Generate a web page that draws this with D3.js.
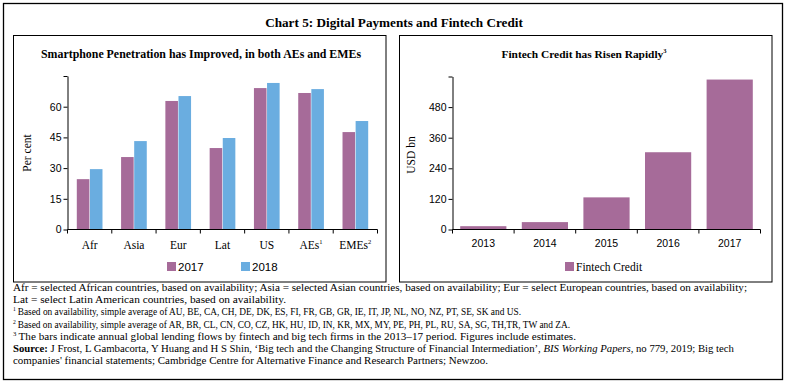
<!DOCTYPE html>
<html><head><meta charset="utf-8">
<script src="https://cdn.jsdelivr.net/npm/d3@7"></script>
<style>body{margin:0;background:#fff}svg{display:block}</style>
</head><body>
<svg id="c" width="787" height="384"></svg>
<script>
const regions = ["Afr","Asia","Eur","Lat","US","AEs","EMEs"];
const regionSup = ["","","","","","1","2"];
const series2017 = [24.6,35.4,62.8,39.8,69.1,66.7,47.6];
const series2018 = [29.5,43.2,65.2,44.7,71.6,68.6,53.0];
const years = ["2013","2014","2015","2016","2017"];
const fintechCredit = [13,29,126,303,588];
const leftTicks = [0,15,30,45,60,75];
const rightTicks = [0,120,240,360,480,600];
const seriesNames = ["2017","2018"];
const footnotes = [
 "Afr = selected African countries, based on availability; Asia = selected Asian countries, based on availability; Eur = select European countries, based on availability;",
 "Lat = select Latin American countries, based on availability.",
 "Based on availability, simple average of AU, BE, CA, CH, DE, DK, ES, FI, FR, GB, GR, IE, IT, JP, NL, NO, NZ, PT, SE, SK and US.",
 "Based on availability, simple average of AR, BR, CL, CN, CO, CZ, HK, HU, ID, IN, KR, MX, MY, PE, PH, PL, RU, SA, SG, TH,TR, TW and ZA.",
 "The bars indicate annual global lending flows by fintech and big tech firms in the 2013–17 period. Figures include estimates."
];
const footSup = ["","","1","2","3"];
const footWidths = [734,273,508,557,563,721,475];

const purple = "#a66b99", blue = "#6aade0";
const serif = "'Liberation Serif','Times New Roman',serif";
const sans = "'Liberation Sans',Arial,sans-serif";
const svg = d3.select("#c");

// frames
svg.append("rect").attr("x",3.5).attr("y",3.5).attr("width",779).attr("height",376)
  .attr("fill","none").attr("stroke","#000").attr("stroke-width",1.3);
svg.append("rect").attr("x",13.5).attr("y",35.5).attr("width",372.5).attr("height",246.5)
  .attr("fill","none").attr("stroke","#000").attr("stroke-width",1);
svg.append("rect").attr("x",399.5).attr("y",35.5).attr("width",372.5).attr("height",246.5)
  .attr("fill","none").attr("stroke","#000").attr("stroke-width",1);

svg.append("text").attr("x",394).attr("y",27).attr("text-anchor","middle")
  .attr("font-family",serif).attr("font-weight","bold").attr("font-size",13.2)
  .text("Chart 5: Digital Payments and Fintech Credit");

// ---- left chart
const L = {x0:67.5, x1:377.5, y0:229.5, y1:76};
const xL = d3.scaleBand().domain(regions).range([L.x0,L.x1]).paddingInner(0.42).paddingOuter(0.21);
const xLsub = d3.scaleBand().domain(seriesNames).range([0,xL.bandwidth()]).paddingInner(0.04);
const yL = d3.scaleLinear().domain([0,75]).range([L.y0,L.y1]);
const gL = svg.append("g");
gL.append("text").attr("x",201).attr("y",58).attr("text-anchor","middle")
  .attr("font-family",serif).attr("font-weight","bold").attr("font-size",11.6)
  .attr("textLength",320).attr("lengthAdjust","spacingAndGlyphs")
  .text("Smartphone Penetration has Improved, in both AEs and EMEs");
const dataL = regions.map((r,i)=>({r, vals:[series2017[i],series2018[i]]}));
const grp = gL.selectAll("g.cat").data(dataL).join("g").attr("transform",d=>`translate(${xL(d.r)},0)`);
grp.selectAll("rect").data(d=>d.vals.map((v,j)=>({v,s:seriesNames[j]}))).join("rect")
  .attr("x",d=>xLsub(d.s)).attr("width",xLsub.bandwidth())
  .attr("y",d=>yL(d.v)).attr("height",d=>yL(0)-yL(d.v))
  .attr("fill",d=>d.s==="2017"?purple:blue);
const yAxL = gL.append("g").attr("transform",`translate(${L.x0},0)`)
  .call(d3.axisLeft(yL).tickValues(leftTicks).tickSize(4).tickSizeOuter(0).tickFormat(d=>d===75?"":d));
const step = (L.x1-L.x0)/regions.length;
const xAxL = gL.append("g").attr("transform",`translate(0,${L.y0})`);
xAxL.append("line").attr("x1",L.x0).attr("x2",L.x1).attr("stroke","#000");
xAxL.selectAll("line.t").data(d3.range(regions.length+1)).join("line").attr("class","t")
  .attr("x1",i=>L.x0+i*step).attr("x2",i=>L.x0+i*step).attr("y1",0).attr("y2",4).attr("stroke","#000");
const xl = xAxL.selectAll("text").data(regions).join("text")
  .attr("x",d=>xL(d)+xL.bandwidth()/2).attr("y",19).attr("text-anchor","middle")
  .attr("font-family",serif).attr("font-size",11.5);
xl.append("tspan").text(d=>d);
xl.append("tspan").attr("font-size",6.5).attr("dy",-5).text((d,i)=>regionSup[i]);
gL.append("text").attr("transform","translate(31,153) rotate(-90)").attr("text-anchor","middle")
  .attr("font-family",serif).attr("font-size",11.5).text("Per cent");
const lg = gL.selectAll("g.lg").data(seriesNames).join("g").attr("transform",(d,i)=>`translate(${167+i*74},262)`);
lg.append("rect").attr("width",9).attr("height",9).attr("fill",(d,i)=>i?blue:purple);
lg.append("text").attr("x",11).attr("y",8.6).attr("font-family",sans).attr("font-size",11.5).text(d=>d);

// ---- right chart
const R = {x0:452.5, x1:760.5, y0:229.5, y1:76.5};
const xR = d3.scaleBand().domain(years).range([R.x0,R.x1]).paddingInner(0.25).paddingOuter(0.125);
const yR = d3.scaleLinear().domain([0,600]).range([R.y0,R.y1]);
const gR = svg.append("g");
const rt = gR.append("text").attr("x",584).attr("y",58).attr("text-anchor","middle")
  .attr("font-family",serif).attr("font-weight","bold").attr("font-size",11.4);
rt.append("tspan").text("Fintech Credit has Risen Rapidly");
rt.append("tspan").attr("font-size",6.5).attr("dy",-5).text("3");
gR.selectAll("rect.b").data(years.map((y,i)=>({y,v:fintechCredit[i]}))).join("rect").attr("class","b")
  .attr("x",d=>xR(d.y)).attr("width",xR.bandwidth()).attr("y",d=>yR(d.v)).attr("height",d=>yR(0)-yR(d.v))
  .attr("fill",purple);
const yAxR = gR.append("g").attr("transform",`translate(${R.x0},0)`)
  .call(d3.axisLeft(yR).tickValues(rightTicks).tickSize(4).tickSizeOuter(0).tickFormat(d=>d===600?"":d));
const stepR = (R.x1-R.x0)/years.length;
const xAxR = gR.append("g").attr("transform",`translate(0,${R.y0})`);
xAxR.append("line").attr("x1",R.x0).attr("x2",R.x1).attr("stroke","#000");
xAxR.selectAll("line.t").data(d3.range(years.length+1)).join("line").attr("class","t")
  .attr("x1",i=>R.x0+i*stepR).attr("x2",i=>R.x0+i*stepR).attr("y1",0).attr("y2",4).attr("stroke","#000");
xAxR.selectAll("text").data(years).join("text")
  .attr("x",d=>xR(d)+xR.bandwidth()/2).attr("y",17).attr("text-anchor","middle")
  .attr("font-family",sans).attr("font-size",10.5).text(d=>d);
gR.append("text").attr("transform","translate(415,155) rotate(-90)").attr("text-anchor","middle")
  .attr("font-family",serif).attr("font-size",11.5).text("USD bn");
const lgR = gR.append("g").attr("transform","translate(565,262)");
lgR.append("rect").attr("width",9).attr("height",9).attr("fill",purple);
lgR.append("text").attr("x",11).attr("y",8.6).attr("font-family",serif).attr("font-size",11.5).text("Fintech Credit");

[yAxL,yAxR].forEach(a=>{
  a.select(".domain").attr("stroke","#000");
  a.selectAll(".tick line").attr("stroke","#000");
  a.selectAll(".tick text").attr("font-family",sans).attr("font-size",10.5).attr("fill","#000").attr("dx",1);
});

// footnotes
const fy0 = 291, fdy = 12.2;
function fit(sel, w){
  const cur = sel.node().getComputedTextLength();
  const fs = parseFloat(sel.attr("font-size"));
  sel.attr("font-size", fs*w/cur);
  sel.selectAll("tspan").each(function(){
    const t=d3.select(this); const f=t.attr("font-size");
    if(f) t.attr("font-size", parseFloat(f)*w/cur);
  });
}
footnotes.forEach((t,i)=>{
  const tx = svg.append("text").attr("x",13).attr("y",fy0+i*fdy).attr("font-family",serif).attr("font-size",10);
  if(footSup[i]) tx.append("tspan").attr("font-size",6).attr("dy",-4).text(footSup[i]);
  tx.append("tspan").attr("dy",footSup[i]?4:0).attr("dx",footSup[i]?2:0).text(t);
  tx.attr("textLength",footWidths[i]).attr("lengthAdjust","spacingAndGlyphs");
});
const s1 = svg.append("text").attr("x",13).attr("y",fy0+5*fdy).attr("font-family",serif).attr("font-size",10)
  .attr("textLength",footWidths[5]).attr("lengthAdjust","spacingAndGlyphs");
s1.append("tspan").attr("font-weight","bold").text("Source:");
s1.append("tspan").text(" J Frost, L Gambacorta, Y Huang and H S Shin, ‘Big tech and the Changing Structure of Financial Intermediation’, ");
s1.append("tspan").attr("font-style","italic").text("BIS Working Papers,");
s1.append("tspan").text(" no 779, 2019; Big tech");
svg.append("text").attr("x",13).attr("y",fy0+6*fdy).attr("font-family",serif).attr("font-size",10)
  .attr("textLength",footWidths[6]).attr("lengthAdjust","spacingAndGlyphs")
  .text("companies' financial statements; Cambridge Centre for Alternative Finance and Research Partners; Newzoo.");
</script>
</body></html>
